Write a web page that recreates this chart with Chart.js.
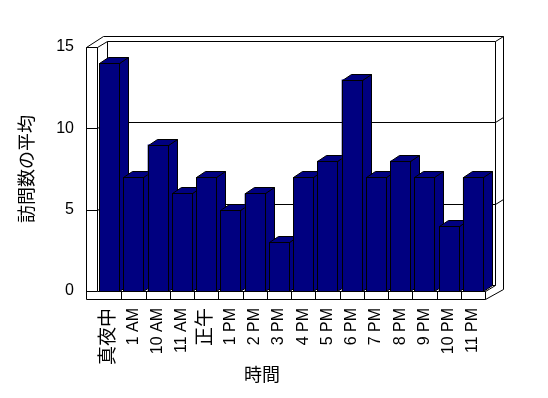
<!DOCTYPE html>
<html>
<head>
<meta charset="utf-8">
<script src="https://cdn.jsdelivr.net/npm/chart.js@4"></script>
<style>
  html, body { margin: 0; padding: 0; background: #fff; }
  #wrap { width: 548px; height: 398px; }
</style>
</head>
<body>
<div id="wrap"><canvas id="grafico" width="548" height="398"></canvas></div>
<script>
var horas = ['真夜中', '1 AM', '10 AM', '11 AM', '正午', '1 PM', '2 PM', '3 PM',
             '4 PM', '5 PM', '6 PM', '7 PM', '8 PM', '9 PM', '10 PM', '11 PM'];
var visitas = [14, 7, 9, 6, 7, 5, 6, 3, 7, 8, 13, 7, 8, 7, 4, 7];
var marcasY = [0, 5, 10, 15];

var FONTE = "'Liberation Sans', 'Noto Sans CJK JP', sans-serif";
var AZUL = '#000080';

// profundidade do efeito 3D
var BAR_DX = 9, BAR_DY = -6;
var WALL_DX = 10, WALL_DY = -6;

function linha(ctx, pts) {
    ctx.beginPath();
    ctx.moveTo(pts[0][0], pts[0][1]);
    for (var i = 1; i < pts.length; i++) ctx.lineTo(pts[i][0], pts[i][1]);
    ctx.stroke();
}

function cantos(bar) {
    return {
        x0: Math.round(bar.x - bar.width / 2),
        x1: Math.round(bar.x + bar.width / 2),
        y: Math.round(bar.y),
        b: Math.round(bar.base)
    };
}

var caixa3d = {
    id: 'caixa3d',
    beforeDatasetsDraw: function (chart) {
        var ctx = chart.ctx, a = chart.chartArea, ys = chart.scales.y, xs = chart.scales.x;
        var L = a.left, R = a.right, T = a.top, B = a.bottom;
        ctx.save();
        ctx.strokeStyle = '#000';
        ctx.lineWidth = 1;
        ctx.translate(0.5, 0.5);

        // moldura externa
        linha(ctx, [[L - 11, B + 8], [L - 11, T], [L + 6, T - 11], [R + 18, T - 11],
                    [R + 18, B - 2], [R, B + 8], [L - 11, B + 8]]);
        // parede esquerda
        linha(ctx, [[L, B], [L, T], [L + WALL_DX, T + WALL_DY]]);
        linha(ctx, [[L - 11, T], [L, T]]);
        // parede do fundo
        linha(ctx, [[L + WALL_DX, B + WALL_DY], [L + WALL_DX, T + WALL_DY],
                    [R + WALL_DX, T + WALL_DY], [R + WALL_DX, B + WALL_DY], [L + WALL_DX, B + WALL_DY]]);
        linha(ctx, [[R + WALL_DX, T + WALL_DY], [R + 18, T - 11]]);
        // grade
        marcasY.forEach(function (v) {
            var y = Math.round(ys.getPixelForValue(v));
            linha(ctx, [[L - 11, y], [L, y]]);
            if (v > 0 && v < 15) {
                linha(ctx, [[L, y], [L + WALL_DX, y + WALL_DY], [R + WALL_DX, y + WALL_DY], [R + 18, y - 11]]);
            }
        });
        // piso
        linha(ctx, [[L, B], [R, B], [R + WALL_DX, B + WALL_DY]]);
        linha(ctx, [[R, B], [R, B + 8]]);
        for (var i = 1; i < horas.length; i++) {
            var xb = Math.round((xs.getPixelForTick(i - 1) + xs.getPixelForTick(i)) / 2);
            linha(ctx, [[xb, B], [xb, B + 8]]);
        }
        ctx.restore();

        // laterais e topos das barras
        ctx.save();
        ctx.strokeStyle = '#000';
        ctx.fillStyle = AZUL;
        ctx.lineWidth = 1;
        ctx.translate(0.5, 0.5);
        chart.getDatasetMeta(0).data.forEach(function (bar) {
            var c = cantos(bar);
            ctx.beginPath();
            ctx.moveTo(c.x1, c.b);
            ctx.lineTo(c.x1 + BAR_DX, c.b + BAR_DY);
            ctx.lineTo(c.x1 + BAR_DX, c.y + BAR_DY);
            ctx.lineTo(c.x1, c.y);
            ctx.closePath();
            ctx.fill();
            ctx.stroke();
            ctx.beginPath();
            ctx.moveTo(c.x0, c.y);
            ctx.lineTo(c.x0 + BAR_DX, c.y + BAR_DY);
            ctx.lineTo(c.x1 + BAR_DX, c.y + BAR_DY);
            ctx.lineTo(c.x1, c.y);
            ctx.closePath();
            ctx.fill();
            ctx.stroke();
        });
        ctx.restore();
    },
    afterDatasetsDraw: function (chart) {
        // contorno nítido da face frontal
        var ctx = chart.ctx;
        ctx.save();
        ctx.strokeStyle = '#000';
        ctx.fillStyle = AZUL;
        ctx.lineWidth = 1;
        ctx.translate(0.5, 0.5);
        chart.getDatasetMeta(0).data.forEach(function (bar) {
            var c = cantos(bar);
            ctx.fillRect(c.x0, c.y, c.x1 - c.x0, c.b - c.y);
            ctx.strokeRect(c.x0, c.y, c.x1 - c.x0, c.b - c.y);
        });
        ctx.restore();
    },
    afterDraw: function (chart) {
        var ctx = chart.ctx, a = chart.chartArea;
        ctx.save();
        ctx.fillStyle = '#000';
        ctx.font = '18px ' + FONTE;
        ctx.textAlign = 'center';
        ctx.textBaseline = 'middle';
        ctx.fillText('時間', (a.left + a.right) / 2 - 29, 376);
        ctx.restore();
    }
};

new Chart(document.getElementById('grafico'), {
    type: 'bar',
    data: {
        labels: horas,
        datasets: [{
            label: '訪問数の平均',
            data: visitas,
            backgroundColor: AZUL,
            borderWidth: 0,
            barPercentage: 0.82,
            categoryPercentage: 1
        }]
    },
    plugins: [caixa3d],
    options: {
        responsive: false,
        animation: false,
        layout: { padding: { top: 47, right: 63, left: 0, bottom: 0 } },
        plugins: {
            legend: { display: false },
            tooltip: { enabled: false }
        },
        scales: {
            x: {
                grid: { display: false, drawTicks: false },
                border: { display: false },
                ticks: {
                    color: '#000',
                    minRotation: 90,
                    maxRotation: 90,
                    autoSkip: false,
                    padding: 17,
                    font: function (c) {
                        var cjk = c.index === 0 || c.index === 4;
                        return { family: FONTE, size: cjk ? 19 : 16 };
                    }
                },
                afterFit: function (s) { s.height = 107; }
            },
            y: {
                min: 0,
                max: 15,
                grid: { display: false, drawTicks: false },
                border: { display: false },
                ticks: {
                    stepSize: 5,
                    color: '#000',
                    padding: 23,
                    font: { family: FONTE, size: 16 }
                },
                title: {
                    display: true,
                    text: '訪問数の平均',
                    color: '#000',
                    font: { family: FONTE, size: 18 },
                    padding: { top: 17 }
                },
                afterFit: function (s) { s.width = 97; }
            }
        }
    }
});
</script>
</body>
</html>
